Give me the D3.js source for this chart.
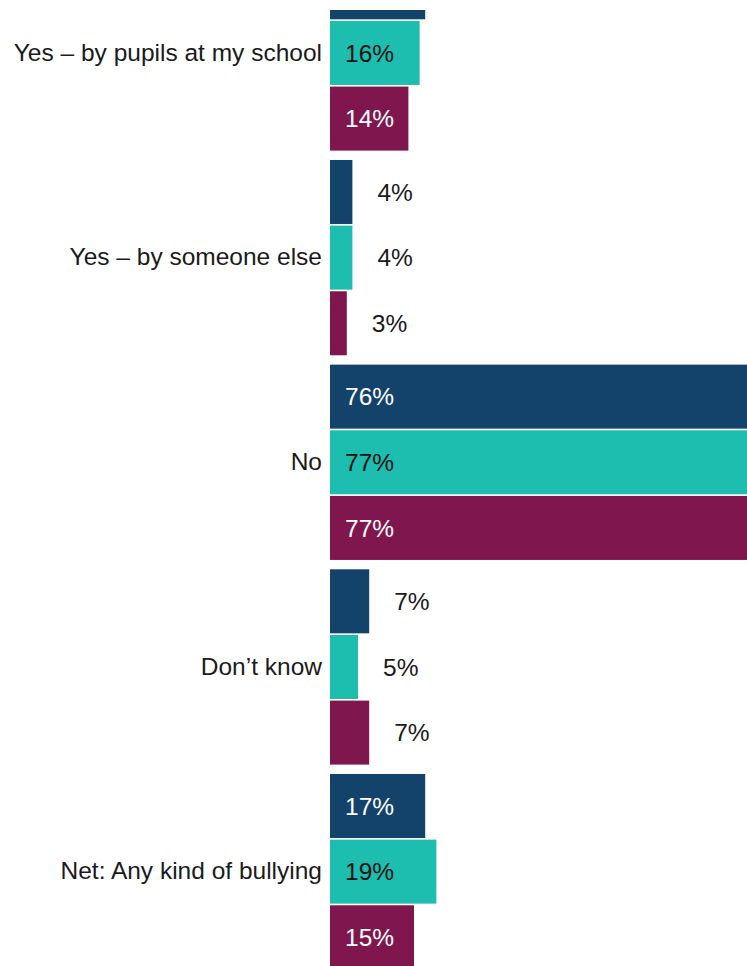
<!DOCTYPE html>
<html>
<head>
<meta charset="utf-8">
<script src="https://cdn.jsdelivr.net/npm/d3@7/dist/d3.min.js"></script>
<style>
  html, body { margin: 0; padding: 0; background: #fff; }
  svg { display: block; font-family: "Liberation Sans", Arial, sans-serif; }
</style>
</head>
<body>
<div id="chart"></div>
<script>
// Survey answers: have you been bullied?
const categories = [
  "Yes \u2013 by pupils at my school",
  "Yes \u2013 by someone else",
  "No",
  "Don\u2019t know",
  "Net: Any kind of bullying"
];
const seriesNames = ["Series A", "Series B", "Series C"];
const seriesA = [17, 4, 76, 7, 17];
const seriesB = [16, 4, 77, 5, 19];
const seriesC = [14, 3, 77, 7, 15];
const seriesColors = ["#13436a", "#1dbdb0", "#7f174e"];
const labelOnBar = ["#ffffff", "#111111", "#ffffff"];

const width = 747, height = 966;
const x0 = 330;              // left edge of the bars
const plotTop = 10;          // visible top of the plot area
const fontSize = 24.5;

const allSeries = [seriesA, seriesB, seriesC];
const rows = categories.map((c, i) => ({
  category: c,
  values: allSeries.map((s, k) => ({ key: seriesNames[k], idx: k, value: s[i] }))
}));

const svg = d3.select("#chart").append("svg")
  .attr("width", width).attr("height", height);

svg.append("defs").append("clipPath").attr("id", "plot-clip")
  .append("rect").attr("x", 0).attr("y", plotTop)
  .attr("width", width).attr("height", height - plotTop);

const x = d3.scaleLinear().domain([0, 100]).range([x0, x0 + 560]);

const groupStep = 204.67, groupGap = 9.37, groupStart = -44.7;
const y = d3.scaleBand()
  .domain(categories)
  .range([groupStart, groupStart + categories.length * groupStep - groupGap])
  .paddingInner(groupGap / groupStep)
  .paddingOuter(0);

const yInner = d3.scaleBand()
  .domain(seriesNames)
  .range([0, y.bandwidth()])
  .paddingInner(0.025);

const plot = svg.append("g").attr("clip-path", "url(#plot-clip)");

const groups = plot.selectAll("g.group").data(rows).join("g")
  .attr("class", "group")
  .attr("transform", d => `translate(0,${y(d.category)})`);

groups.selectAll("rect").data(d => d.values).join("rect")
  .attr("x", x(0))
  .attr("y", d => yInner(d.key))
  .attr("width", d => x(d.value) - x(0))
  .attr("height", yInner.bandwidth())
  .attr("fill", d => seriesColors[d.idx]);

// Value labels: inside long bars, just past the end of short ones.
// Labels whose bar centre sits above the visible plot area are skipped.
groups.selectAll("text.val")
  .data(d => d.values.filter(v =>
    y(d.category) + yInner(v.key) + yInner.bandwidth() / 2 > plotTop))
  .join("text")
  .attr("class", "val")
  .attr("x", d => d.value >= 10 ? x(0) + 15 : x(d.value) + 25)
  .attr("y", d => yInner(d.key) + yInner.bandwidth() / 2)
  .attr("dy", "0.36em")
  .attr("font-size", fontSize)
  .attr("fill", d => d.value >= 10 ? labelOnBar[d.idx] : "#1a1a1a")
  .text(d => d.value + "%");

// Category axis on the left, without line or ticks
const yAxis = d3.axisLeft(y).tickSize(0).tickPadding(8);
const axisG = svg.append("g")
  .attr("transform", `translate(${x0},0)`)
  .call(yAxis);
axisG.select(".domain").remove();
axisG.selectAll("text")
  .attr("font-size", fontSize)
  .attr("font-family", "\"Liberation Sans\", Arial, sans-serif")
  .attr("fill", "#1a1a1a");
</script>
</body>
</html>
